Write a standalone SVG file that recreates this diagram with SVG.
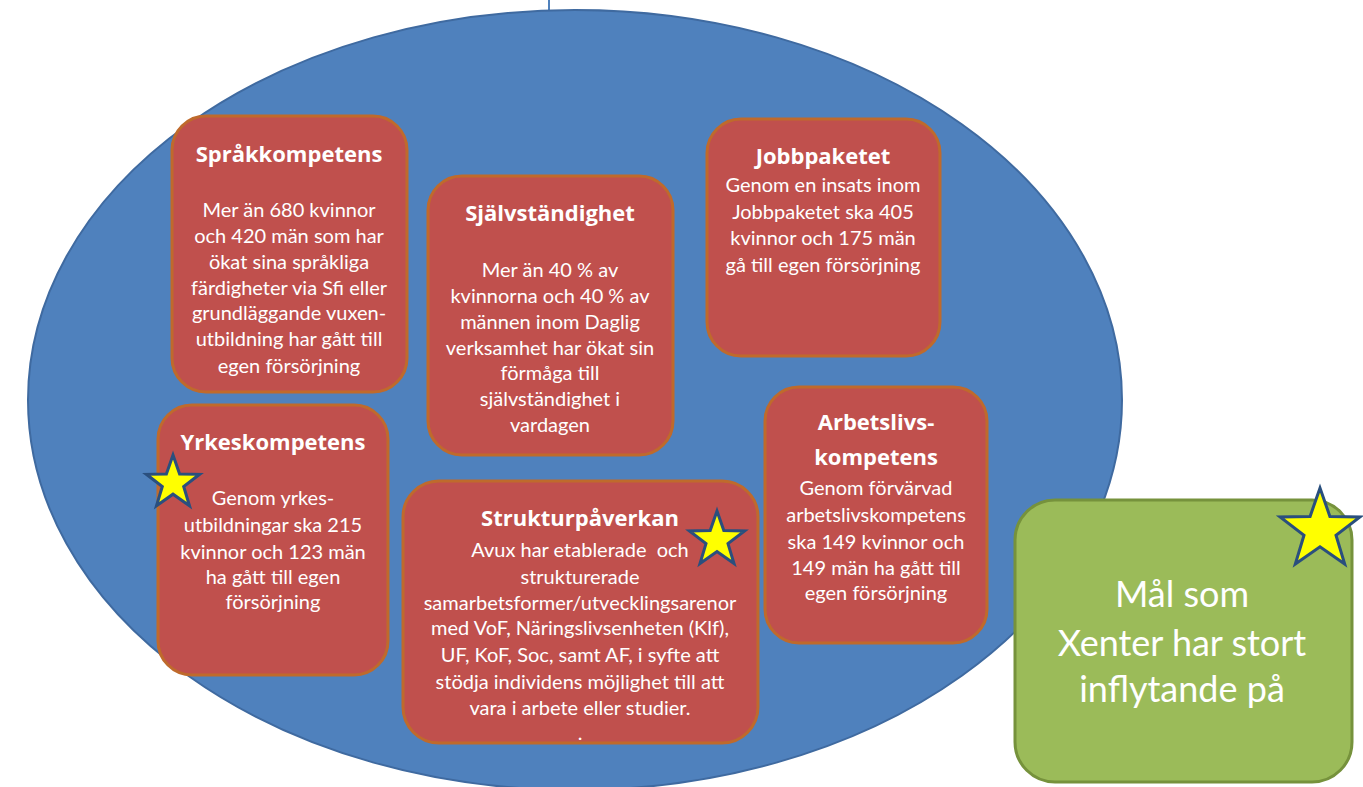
<svg xmlns="http://www.w3.org/2000/svg" width="1363" height="787" viewBox="0 0 1363 787">
<style>
.box{fill:#C0504D;stroke:#BF6A2C;stroke-width:3}
.goal{fill:#9BBB59;stroke:#76923C;stroke-width:3}
.title{font-family:"Open Sans","DejaVu Sans",sans-serif;font-weight:bold;font-size:22px;fill:#FFFFFF;text-anchor:middle}
.body{font-family:Lato,"Liberation Sans",sans-serif;font-size:20px;fill:#FFFFFF;text-anchor:middle}
.big{font-family:Lato,"Liberation Sans",sans-serif;font-size:36px;fill:#FFFFFF;text-anchor:middle}
.star{fill:#FFFF00;stroke:#2A4F7E;stroke-width:3;stroke-linejoin:miter}
</style>
<rect width="1363" height="787" fill="#FFFFFF"/>
<g id="connectors">
<line x1="549" y1="0" x2="549" y2="11" stroke="#4F81BD" stroke-width="2"/>
</g>
<g id="ellipse">
<ellipse cx="575" cy="400" rx="547" ry="390" fill="#4F81BD" stroke="#3F6AA0" stroke-width="2"/>
</g>
<g id="sprakkompetens">
<rect class="box" x="172" y="116" width="235" height="276" rx="34"/>
<text class="title" x="289" y="162">Språkkompetens</text>
<text class="body" x="289" y="217">Mer än 680 kvinnor</text>
<text class="body" x="289" y="243">och 420 män som har</text>
<text class="body" x="289" y="269">ökat sina språkliga</text>
<text class="body" x="289" y="295">färdigheter via Sfi eller</text>
<text class="body" x="289" y="320">grundläggande vuxen-</text>
<text class="body" x="289" y="346">utbildning har gått till</text>
<text class="body" x="289" y="373">egen försörjning</text>
</g>
<g id="sjalvstandighet">
<rect class="box" x="428" y="176" width="245" height="279" rx="34"/>
<text class="title" x="550" y="221">Självständighet</text>
<text class="body" x="550" y="277">Mer än 40 % av</text>
<text class="body" x="550" y="303">kvinnorna och 40 % av</text>
<text class="body" x="550" y="329">männen inom Daglig</text>
<text class="body" x="550" y="355">verksamhet har ökat sin</text>
<text class="body" x="550" y="380">förmåga till</text>
<text class="body" x="550" y="406">självständighet i</text>
<text class="body" x="550" y="432">vardagen</text>
</g>
<g id="jobbpaketet">
<rect class="box" x="707" y="119" width="233" height="237" rx="34"/>
<text class="title" x="823" y="164">Jobbpaketet</text>
<text class="body" x="823" y="192">Genom en insats inom</text>
<text class="body" x="823" y="219">Jobbpaketet ska 405</text>
<text class="body" x="823" y="245">kvinnor och 175 män</text>
<text class="body" x="823" y="272">gå till egen försörjning</text>
</g>
<g id="yrkeskompetens">
<rect class="box" x="158" y="405" width="230" height="270" rx="34"/>
<text class="title" x="273" y="450">Yrkeskompetens</text>
<text class="body" x="273" y="505">Genom yrkes-</text>
<text class="body" x="273" y="532">utbildningar ska 215</text>
<text class="body" x="273" y="559">kvinnor och 123 män</text>
<text class="body" x="273" y="584">ha gått till egen</text>
<text class="body" x="273" y="609">försörjning</text>
</g>
<g id="arbetslivskompetens">
<rect class="box" x="765" y="387" width="222" height="256" rx="34"/>
<text class="title" x="876" y="430">Arbetslivs-</text>
<text class="title" x="876" y="465">kompetens</text>
<text class="body" x="876" y="495">Genom förvärvad</text>
<text class="body" x="876" y="522">arbetslivskompetens</text>
<text class="body" x="876" y="549">ska 149 kvinnor och</text>
<text class="body" x="876" y="575">149 män ha gått till</text>
<text class="body" x="876" y="600">egen försörjning</text>
</g>
<g id="strukturpaverkan">
<rect class="box" x="403" y="481" width="355" height="262" rx="36"/>
<text class="title" x="580" y="526">Strukturpåverkan</text>
<text class="body" x="580" y="557" xml:space="preserve">Avux har etablerade  och</text>
<text class="body" x="580" y="584">strukturerade</text>
<text class="body" x="580" y="610">samarbetsformer/utvecklingsarenor</text>
<text class="body" x="580" y="635">med VoF, Näringslivsenheten (Klf),</text>
<text class="body" x="580" y="662">UF, KoF, Soc, samt AF, i syfte att</text>
<text class="body" x="580" y="689">stödja individens möjlighet till att</text>
<text class="body" x="580" y="715">vara i arbete eller studier.</text>
<text class="body" x="580" y="740">.</text>
</g>
<g id="goal">
<rect class="goal" x="1015" y="500" width="337" height="282" rx="40"/>
<text class="big" x="1182" y="607">Mål som</text>
<text class="big" x="1182" y="656">Xenter har stort</text>
<text class="big" x="1182" y="702">inflytande på</text>
</g>
<g id="stars">
<polygon class="star" points="173,455 179.6,473.9 199.6,474.3 183.7,486.5 189.5,505.7 173,494.2 156.5,505.7 162.3,486.5 146.4,474.3 166.4,473.9"/>
<polygon class="star" points="717,511 723.8,530.6 744.6,531 728,543.6 734,563.5 717,551.6 700,563.5 706,543.6 689.4,531 710.2,530.6"/>
<polygon class="star" points="1320,488 1329.9,516.4 1360,517 1336,535.2 1344.7,564 1320,546.8 1295.3,564 1304,535.2 1280.1,517 1310.1,516.4"/>
</g>
</svg>
